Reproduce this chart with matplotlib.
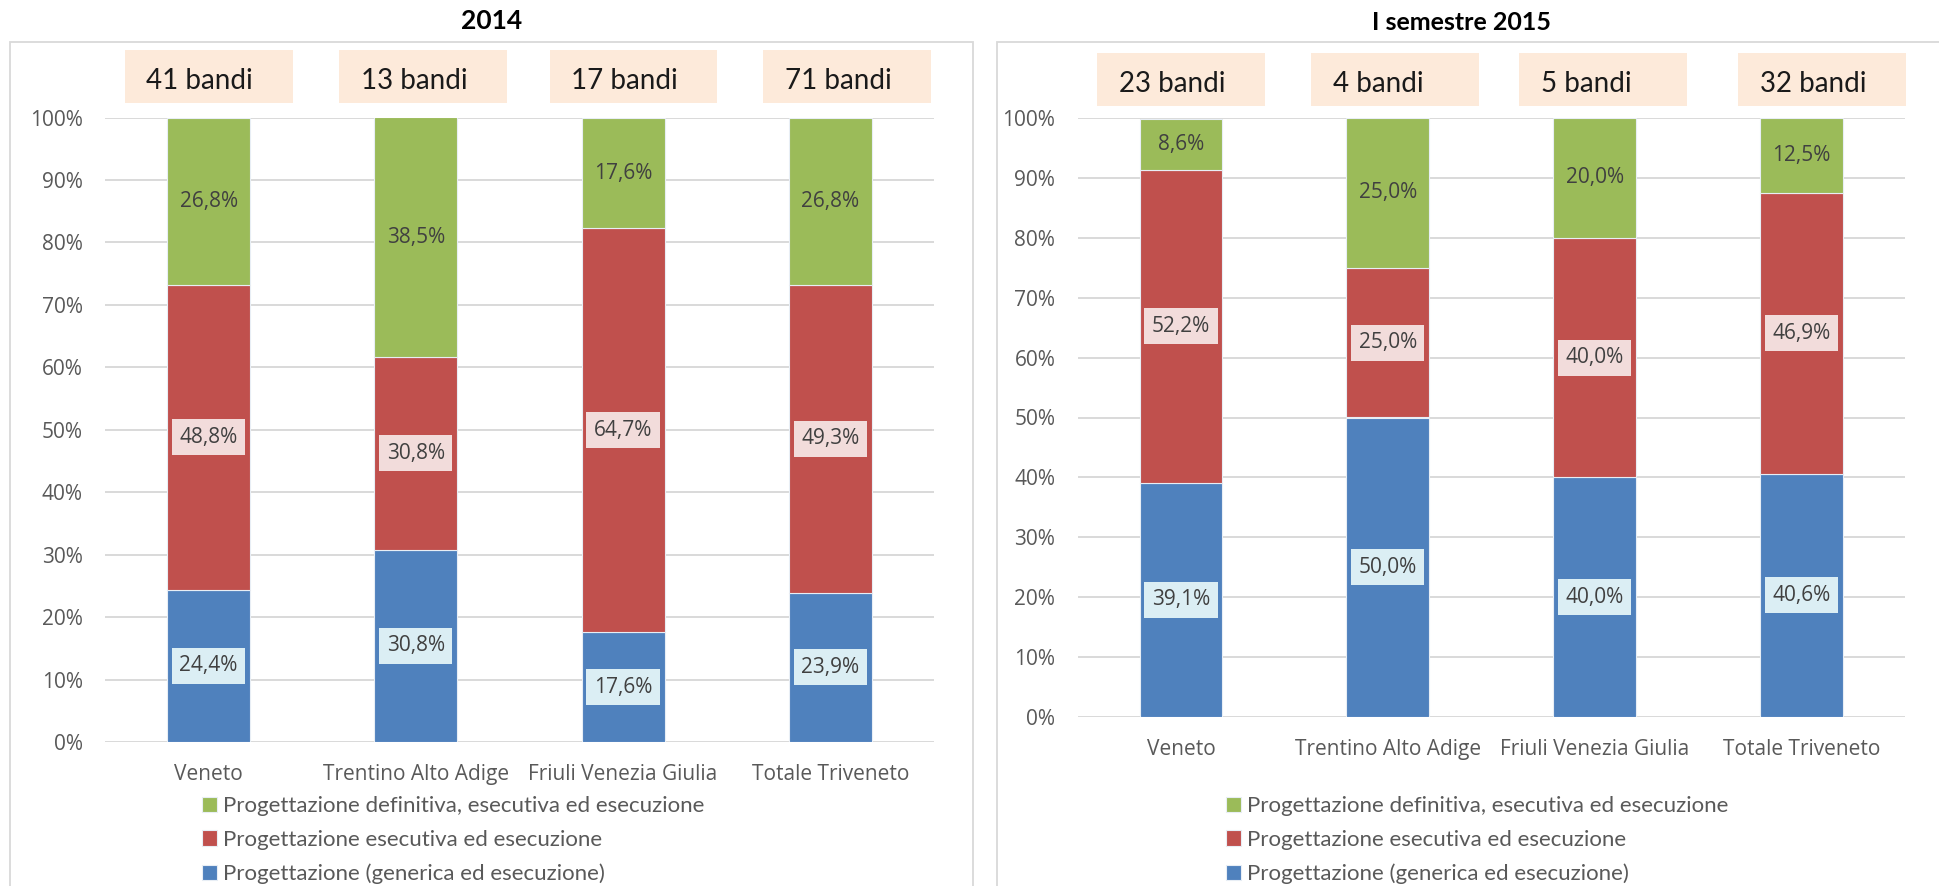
import numpy as np
import matplotlib
matplotlib.use("Agg")
import matplotlib.pyplot as plt
import matplotlib.transforms as mtransforms
from matplotlib.patches import Rectangle

# ---- data -------------------------------------------------------------
regions = ["Veneto", "Trentino Alto Adige", "Friuli Venezia Giulia", "Totale Triveneto"]
series_names = [
    "Progettazione (generica ed esecuzione)",
    "Progettazione esecutiva ed esecuzione",
    "Progettazione definitiva, esecutiva ed esecuzione",
]

generica_2014 = [24.4, 30.8, 17.6, 23.9]
esecutiva_2014 = [48.8, 30.8, 64.7, 49.3]
definitiva_2014 = [26.8, 38.5, 17.6, 26.8]
bandi_2014 = [41, 13, 17, 71]

generica_2015 = [39.1, 50.0, 40.0, 40.6]
esecutiva_2015 = [52.2, 25.0, 40.0, 46.9]
definitiva_2015 = [8.6, 25.0, 20.0, 12.5]
bandi_2015 = [23, 4, 5, 32]

ytick_values = list(range(0, 101, 10))

# ---- style ------------------------------------------------------------
W, H = 1939, 886
colors = ["#4F81BD", "#C0504D", "#9BBB59"]
label_bgs = ["#DBEEF4", "#F2DCDB", None]
grid_color = "#D9D9D9"
tick_color = "#595959"
label_color = "#404040"
box_color = "#FDEADA"
SEGOE = ["Open Sans", "DejaVu Sans"]
CALIBRI = ["Lato", "DejaVu Sans"]

fig = plt.figure(figsize=(W / 100, H / 100), dpi=100)
fig.patch.set_facecolor("white")


def px_axes(x0, y0, x1, y1):
    return fig.add_axes([x0 / W, 1 - y1 / H, (x1 - x0) / W, (y1 - y0) / H])


def fmt(v):
    return f"{v:.1f}%".replace(".", ",")


def draw_panel(ax, series, bandi, box_centers, box_y, legend_xy):
    x = np.arange(len(regions))
    bottom = np.zeros(len(regions))
    containers = []
    for vals, name, color, bg in zip(series, series_names, colors, label_bgs):
        vals = np.asarray(vals, dtype=float)
        bars = ax.bar(x, vals, width=0.4, bottom=bottom, color=color,
                      edgecolor="#E8EEF5", linewidth=0.8, zorder=3, label=name)
        containers.append(bars)
        bbox = dict(boxstyle="square,pad=0.36", fc=bg, ec="none") if bg else None
        texts = ax.bar_label(bars, labels=[fmt(v) for v in vals], label_type="center",
                             fontsize=15, color=label_color, family=SEGOE, zorder=5)
        if bbox:
            for t in texts:
                t.set_bbox(bbox)
        bottom += vals

    ax.set_xlim(-0.5, len(regions) - 0.5)
    ax.set_ylim(0, 100)
    ax.set_yticks(ytick_values)
    ax.set_yticklabels([f"{v}%" for v in ytick_values], family=SEGOE, fontsize=15, color=tick_color)
    ax.set_xticks(x)
    ax.set_xticklabels(regions, family=SEGOE, fontsize=15, color=tick_color)
    ax.tick_params(axis="y", length=0, pad=16)
    ax.tick_params(axis="x", length=0, pad=16)
    ax.yaxis.grid(True, color=grid_color, linewidth=1.4, zorder=0)
    ax.set_axisbelow(True)
    for s in ax.spines.values():
        s.set_visible(False)

    # "N bandi" boxes above each bar
    trans = mtransforms.blended_transform_factory(ax.transData, ax.transAxes)
    for n, cx in zip(bandi, box_centers):
        ax.add_patch(Rectangle((cx - 0.405, box_y[0]), 0.81, box_y[1] - box_y[0],
                               transform=trans, facecolor=box_color, edgecolor="none",
                               clip_on=False, zorder=2))
        ax.text(cx - 0.30, (box_y[0] + box_y[1]) / 2 - 0.008, f"{n} bandi", transform=trans,
                ha="left", va="center", fontsize=20, family=CALIBRI, color="#1A1A1A",
                clip_on=False, zorder=3)

    ax.legend(handles=containers[::-1], labels=series_names[::-1], loc="upper left",
              bbox_to_anchor=(legend_xy[0] / W, 1 - legend_xy[1] / H),
              bbox_transform=fig.transFigure, frameon=False,
              prop={"family": CALIBRI, "size": 16}, labelcolor=tick_color,
              handlelength=0.68, handleheight=0.68, handletextpad=0.25,
              labelspacing=0.62, borderpad=0, borderaxespad=0)


# panel frames
fig.add_artist(Rectangle((10 / W, -0.02), (973 - 10) / W, (H - 42) / H + 0.02,
                         transform=fig.transFigure, fill=False, ec=grid_color, lw=1.3))
fig.add_artist(Rectangle((997 / W, -0.02), (1950 - 997) / W, (H - 42) / H + 0.02,
                         transform=fig.transFigure, fill=False, ec=grid_color, lw=1.3))

ax1 = px_axes(105, 117.5, 934, 742)
draw_panel(ax1, [generica_2014, esecutiva_2014, definitiva_2014], bandi_2014,
           [0.0, 1.035, 2.05, 3.08], (1.024, 1.108), (202, 796))

ax2 = px_axes(1077.5, 118, 1905, 717)
draw_panel(ax2, [generica_2015, esecutiva_2015, definitiva_2015], bandi_2015,
           [0.0, 1.036, 2.04, 3.10], (1.02, 1.108), (1226, 796))

fig.text(492 / W, 1 - 21 / H, "2014", ha="center", va="center", fontsize=19,
         fontweight="bold", family=CALIBRI, color="black")
fig.text(1462 / W, 1 - 23 / H, "I semestre 2015", ha="center", va="center", fontsize=18,
         fontweight="bold", family=CALIBRI, color="black")

fig.savefig("out.png", dpi=100, facecolor="white")
